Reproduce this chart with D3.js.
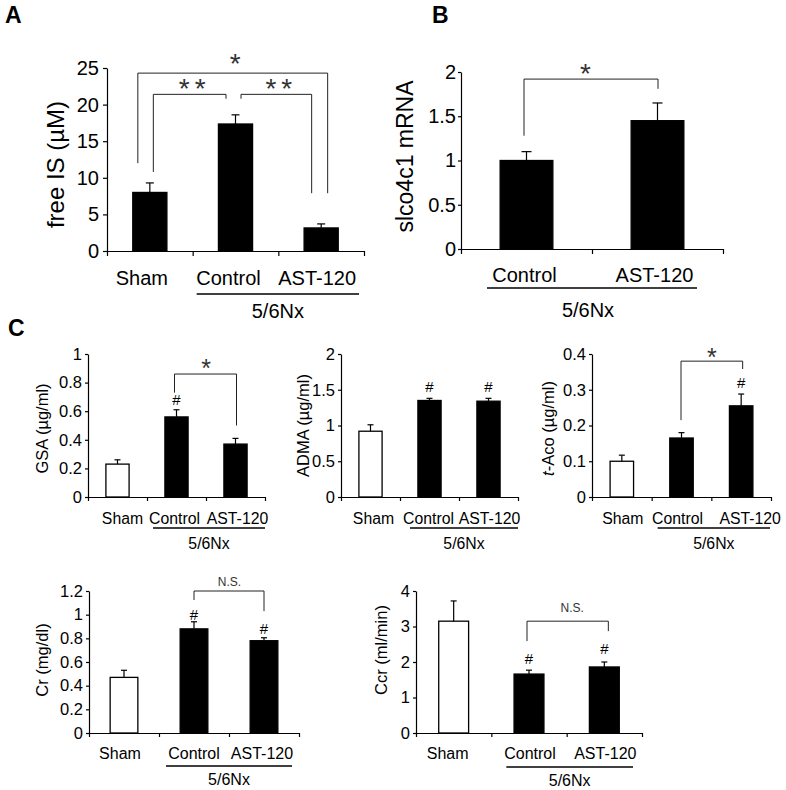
<!DOCTYPE html>
<html>
<head>
<meta charset="utf-8">
<script src="https://cdn.jsdelivr.net/npm/d3@7"></script>
<style>
  body { margin: 0; background: #fff; }
  text { font-family: "Liberation Sans", Arial, sans-serif; }
</style>
</head>
<body>
<div class="chart"></div>
<script>
// groups
const groups3 = ['Sham', 'Control', 'AST-120'];
const groups2 = ['Control', 'AST-120'];

// A: free IS (uM)
const freeIS = [8.0, 17.35, 3.15];
const freeISErr = [1.3, 1.25, 0.55];
const freeISTicks = [0, 5, 10, 15, 20, 25];
const freeISBrackets = [
    {a: 0, b: 2, yA: 12.0, yB: 7.9, top: 24.3, label: '*'},
    {a: 0, b: 1, yA: 10.8, yB: 20.8, top: 21.4, label: '**'},
    {a: 1, b: 2, yA: 20.8, yB: 7.9, top: 21.4, label: '**'}
];

// B: slco4c1 mRNA
const slco = [1.0, 1.45];
const slcoErr = [0.10, 0.20];
const slcoTicks = [0, 0.5, 1, 1.5, 2];
const slcoBrackets = [{a: 0, b: 1, yA: 1.28, yB: 1.81, top: 1.92, label: '*'}];

// C: GSA, ADMA, t-Aco, Cr, Ccr
const gsa = [0.23, 0.56, 0.37];
const gsaErr = [0.03, 0.05, 0.04];
const gsaTicks = [0, 0.2, 0.4, 0.6, 0.8, 1];
const gsaHash = [null, 0.68, null];
const gsaBrackets = [{a: 1, b: 2, yA: 0.73, yB: 0.50, top: 0.86, label: '*'}];

const adma = [0.92, 1.35, 1.34];
const admaErr = [0.09, 0.03, 0.04];
const admaTicks = [0, 0.5, 1, 1.5, 2];
const admaHash = [null, 1.54, 1.54];

const taco = [0.10, 0.165, 0.255];
const tacoErr = [0.017, 0.015, 0.033];
const tacoTicks = [0, 0.1, 0.2, 0.3, 0.4];
const tacoHash = [null, null, 0.319];
const tacoBrackets = [{a: 1, b: 2, yA: 0.215, yB: 0.358, top: 0.38, label: '*'}];

const cr = [0.47, 0.88, 0.78];
const crErr = [0.06, 0.06, 0.025];
const crTicks = [0, 0.2, 0.4, 0.6, 0.8, 1, 1.2];
const crHash = [null, 1.0, 0.88];
const crBrackets = [{a: 1, b: 2, yA: 1.124, yB: 1.03, top: 1.2, label: 'N.S.'}];

const ccr = [3.15, 1.66, 1.86];
const ccrErr = [0.57, 0.11, 0.14];
const ccrTicks = [0, 1, 2, 3, 4];
const ccrHash = [null, 2.11, 2.37];
const ccrBrackets = [{a: 1, b: 2, yA: 2.59, yB: 2.87, top: 3.15, label: 'N.S.'}];

const W = 786, H = 790;
let svg = d3.select('.chart')
    .append('svg')
        .attr('width', W)
        .attr('height', H);

function panel(c) {
    const n = c.groups.length;
    const g = svg.append('g');
    const x = d3.scaleBand()
        .domain(c.groups)
        .range([c.left, c.right])
        .paddingInner(0.59)
        .paddingOuter(0.295);
    const xEdge = d3.scaleLinear().domain([0, n]).range([c.left, c.right]);
    const y = d3.scaleLinear()
        .domain([0, c.max])
        .range([c.bottom, c.top]);
    const cx = i => x(c.groups[i]) + x.bandwidth() / 2;
    const labelFs = c.labelFs || c.fs;

    // axes
    g.append('g')
        .attr('transform', `translate(0, ${c.bottom})`)
        .call(d3.axisBottom(xEdge)
            .tickValues(d3.range(n + 1))
            .tickFormat('')
            .tickSizeInner(c.xTick)
            .tickSizeOuter(0))
        .call(a => a.selectAll('path, line').attr('stroke-width', 1.2));
    g.append('g')
        .attr('transform', `translate(${c.left}, 0)`)
        .call(d3.axisLeft(y)
            .tickValues(c.ticks)
            .tickFormat(d => String(d))
            .tickSizeInner(c.yTick)
            .tickSizeOuter(0)
            .tickPadding(c.pad))
        .call(a => a.selectAll('path, line').attr('stroke-width', 1.2))
        .call(a => a.selectAll('text')
            .style('font-size', c.fs + 'px')
            .attr('fill', '#000'));

    // bars
    g.selectAll('rect.bar')
        .data(c.values)
        .join('rect')
            .attr('x', (d, i) => x(c.groups[i]) + 0.5)
            .attr('y', d => y(d))
            .attr('width', x.bandwidth() - 1)
            .attr('height', d => y(0) - y(d))
            .attr('fill', (d, i) => c.fills[i])
            .attr('stroke', '#000')
            .attr('stroke-width', 1.3);

    // error bars (upper only)
    c.values.forEach((v, i) => {
        const top = y(v + c.errs[i]);
        g.append('line')
            .attr('x1', cx(i)).attr('x2', cx(i))
            .attr('y1', y(v)).attr('y2', top)
            .attr('stroke', '#000')
            .attr('stroke-width', 1.2);
        g.append('line')
            .attr('x1', cx(i) - c.cap).attr('x2', cx(i) + c.cap)
            .attr('y1', top).attr('y2', top)
            .attr('stroke', '#000')
            .attr('stroke-width', 1.2);
    });

    // category labels
    c.groups.forEach((name, i) => {
        g.append('text')
            .attr('x', cx(i) + c.labelDx[i])
            .attr('y', c.bottom + c.labelDy)
            .attr('text-anchor', 'middle')
            .attr('dominant-baseline', 'central')
            .style('font-size', labelFs + 'px')
            .text(name);
    });

    // 5/6Nx underline
    const u0 = xEdge(c.ulStart) + c.ulInset[0];
    const u1 = xEdge(n) - c.ulInset[1];
    g.append('line')
        .attr('x1', u0).attr('x2', u1)
        .attr('y1', c.bottom + c.ulDy).attr('y2', c.bottom + c.ulDy)
        .attr('stroke', '#000')
        .attr('stroke-width', 1.3);
    g.append('text')
        .attr('x', (u0 + u1) / 2 + c.groupDx)
        .attr('y', c.bottom + c.groupDy)
        .attr('text-anchor', 'middle')
        .attr('dominant-baseline', 'central')
        .style('font-size', labelFs + 'px')
        .text('5/6Nx');

    // y title
    const t = g.append('text')
        .attr('transform', `translate(${c.left + c.titleDx}, ${(c.top + c.bottom) / 2 + c.titleDy}) rotate(-90)`)
        .attr('text-anchor', 'middle')
        .attr('dominant-baseline', 'central')
        .style('font-size', c.titleFs + 'px');
    if (c.italicPrefix) {
        t.append('tspan').style('font-style', 'italic').text(c.italicPrefix);
    }
    t.append('tspan').text(c.title);

    // # marks
    (c.hash || []).forEach((h, i) => {
        if (h == null) return;
        g.append('text')
            .attr('x', cx(i))
            .attr('y', y(h))
            .attr('text-anchor', 'middle')
            .attr('dominant-baseline', 'central')
            .style('font-size', '15px')
            .text('#');
    });

    // significance brackets
    (c.brackets || []).forEach((b, k) => {
        const off = c.legOff[k];
        const xa = cx(b.a) + off[0], xb = cx(b.b) + off[1];
        g.append('path')
            .attr('d', `M${xa},${y(b.yA)}V${y(b.top)}H${xb}V${y(b.yB)}`)
            .attr('fill', 'none')
            .attr('stroke', '#222')
            .attr('stroke-width', 1);
        const isStar = b.label.indexOf('*') === 0;
        const lx = (xa + xb) / 2 + c.markDx[k];
        const ly = y(b.top) - c.markUp[k];
        g.append('text')
            .attr('x', lx)
            .attr('y', isStar ? ly + 0.57 * c.starFs : ly)
            .attr('text-anchor', 'middle')
            .attr('dominant-baseline', isStar ? 'alphabetic' : 'central')
            .style('font-size', (isStar ? c.starFs : 12) + 'px')
            .style('letter-spacing', isStar ? '5px' : null)
            .attr('fill', '#333')
            .text(b.label);
    });
}

const black3 = ['#000', '#000', '#000'];
const white1 = ['#fff', '#000', '#000'];

panel({
    groups: groups3, values: freeIS, errs: freeISErr, ticks: freeISTicks, max: 25,
    left: 107, right: 364, top: 68, bottom: 251, fills: black3,
    fs: 20, titleFs: 24, title: 'free IS (\u00b5M)', titleDx: -52, titleDy: 5,
    xTick: 5, yTick: 4, pad: 4, cap: 4,
    labelDx: [-8, -7, -4], labelDy: 27, ulStart: 1, ulInset: [4, 5], ulDy: 43, groupDx: 0, groupDy: 60,
    brackets: freeISBrackets, legOff: [[-12, 6.5], [3.5, -9.5], [5.5, -9.5]],
    markDx: [5, 5, 5], markUp: [16, 12, 12], starFs: 28
});

panel({
    groups: groups2, values: slco, errs: slcoErr, ticks: slcoTicks, max: 2,
    left: 461, right: 723, top: 72, bottom: 249, fills: black3,
    fs: 20, titleFs: 23, title: 'slco4c1 mRNA', titleDx: -56, titleDy: -4,
    xTick: 5, yTick: 3, pad: 2, cap: 5,
    labelDx: [-2, -3], labelDy: 26, ulStart: 0, ulInset: [26, 26], ulDy: 39, groupDx: -4, groupDy: 61,
    brackets: slcoBrackets, legOff: [[-2.5, 0.5]],
    markDx: [-3], markUp: [12], starFs: 28
});

const rowC = {
    top: 354, bottom: 497, fills: white1, fs: 16.5, labelFs: 15.8, titleFs: 16.5,
    xTick: 4, yTick: 3, pad: 3, cap: 3,
    labelDy: 21, ulStart: 1, ulDy: 31, groupDx: 0, groupDy: 46, starFs: 25
};

panel(Object.assign({}, rowC, {
    groups: groups3, values: gsa, errs: gsaErr, ticks: gsaTicks, max: 1,
    left: 88, right: 265, title: 'GSA (\u00b5g/ml)', titleDx: -46, titleDy: 3,
    labelDx: [5, -2, 2], ulInset: [6, 0], hash: gsaHash,
    brackets: gsaBrackets, legOff: [[-2, 1]], markDx: [3], markUp: [11]
}));

panel(Object.assign({}, rowC, {
    groups: groups3, values: adma, errs: admaErr, ticks: admaTicks, max: 2,
    left: 341, right: 518, title: 'ADMA (\u00b5g/ml)', titleDx: -38, titleDy: 0,
    labelDx: [3, -1, 1], ulInset: [10, 0], hash: admaHash
}));

panel(Object.assign({}, rowC, {
    groups: groups3, values: taco, errs: tacoErr, ticks: tacoTicks, max: 0.4,
    left: 592, right: 771, italicPrefix: 't', title: '-Aco (\u00b5g/ml)', titleDx: -44, titleDy: 3,
    labelDx: [1, -4, 9], ulInset: [6, 1], hash: tacoHash,
    brackets: tacoBrackets, legOff: [[-0.5, 1.5]], markDx: [2.5], markUp: [9]
}));

const rowD = {
    top: 591, bottom: 733, fills: white1, fs: 16.5, labelFs: 16, titleFs: 16.5,
    xTick: 4, yTick: 3, pad: 3, cap: 3,
    labelDy: 20, ulStart: 1, ulDy: 33, groupDx: 0, groupDy: 46, starFs: 25
};

panel(Object.assign({}, rowD, {
    groups: groups3, values: cr, errs: crErr, ticks: crTicks, max: 1.2,
    left: 89, right: 299, title: 'Cr (mg/dl)', titleDx: -47, titleDy: -2,
    labelDx: [-4, 0, -2], ulInset: [7, 7], hash: crHash,
    brackets: crBrackets, legOff: [[0, 0]], markDx: [0.5], markUp: [9]
}));

panel(Object.assign({}, rowD, {
    groups: groups3, values: ccr, errs: ccrErr, ticks: ccrTicks, max: 4,
    left: 416, right: 642, title: 'Ccr (ml/min)', titleDx: -35, titleDy: -12,
    labelDx: [-6, 1, 1], ulInset: [15, 9], ulDy: 34, groupDy: 47, hash: ccrHash,
    brackets: ccrBrackets, legOff: [[-2, 4]], markDx: [4.5], markUp: [13]
}));

// panel letters
[['A', 5, 23], ['B', 432, 23], ['C', 8, 336]].forEach(([s, px, py]) => {
    svg.append('text')
        .attr('x', px).attr('y', py)
        .style('font-size', '23px')
        .style('font-weight', 'bold')
        .text(s);
});
</script>
</body>
</html>
